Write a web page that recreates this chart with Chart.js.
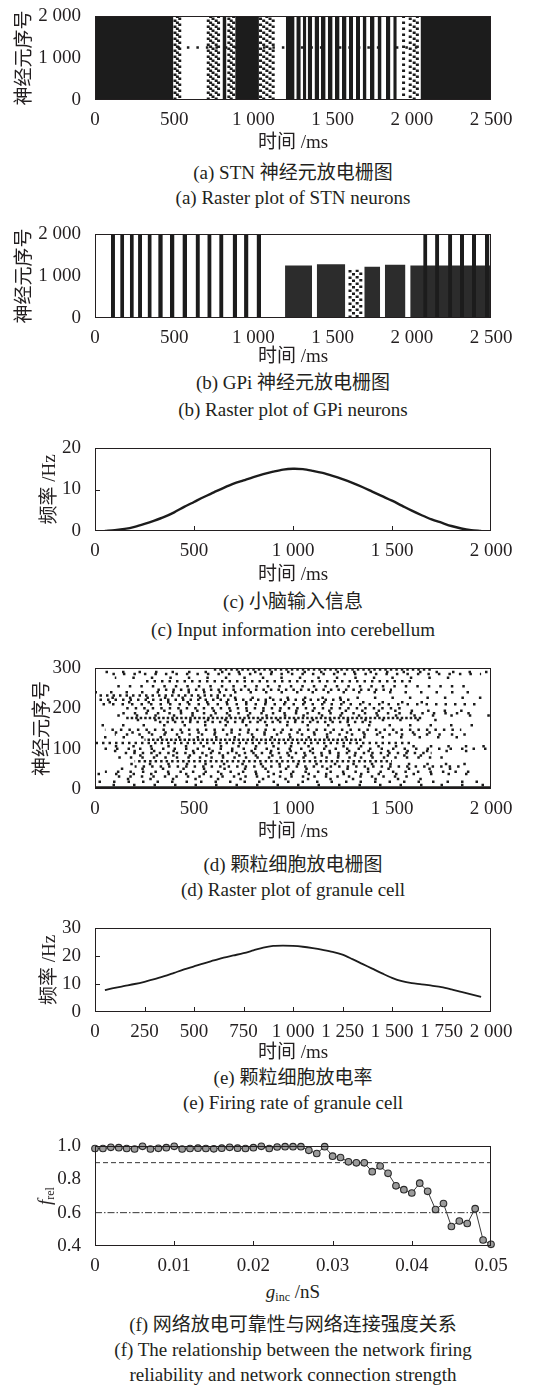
<!DOCTYPE html>
<html>
<head>
<meta charset="utf-8">
<script src="https://cdn.jsdelivr.net/npm/chart.js@4.4.1/dist/chart.umd.min.js"></script>
<style>
  body { margin: 0; background: #fff; width: 550px; height: 1387px; position: relative; overflow: hidden; }
  canvas { position: absolute; left: 0; }
  .txt { position: absolute; width: 550px; text-align: center; white-space: nowrap;
         font: 19px "Liberation Serif", "Noto Sans CJK SC", serif; line-height: 22px; color: #231f20; }
  .rot { position: absolute; white-space: nowrap; transform: translate(-50%, -50%) rotate(-90deg);
         font: 19px "Liberation Serif", serif; color: #231f20; }
  sub { font-size: 12px; vertical-align: -3px; line-height: 0; }
</style>
</head>
<body>
<script>
// ---------- data ----------
// (a) STN raster: dense firing blocks [start, end] ms, stripes, sparse columns
const stnSolid = [[0, 495], [805, 830], [885, 1035], [2055, 2500]];
const stnStripes = [[1205, 1260], [1271, 1299], [1312, 1334], [1343, 1371], [1386, 1415], [1426, 1456],
    [1470, 1500], [1515, 1544], [1559, 1588], [1603, 1629], [1647, 1673], [1690, 1714], [1736, 1765],
    [1784, 1809], [1837, 1865], [1883, 1905]];
const stnSpeckle = [505, 520, 535, 715, 730, 745, 765, 780, 845, 860, 875, 1045, 1065, 1085, 1105, 1125, 1948, 1990, 2015, 2035];
const stnRow = [1250, 520, 2500];

// (b) GPi raster
const gpiStripes = [[101, 126], [159, 184], [220, 245], [272, 297], [332, 358], [399, 428], [473, 502],
    [552, 581], [635, 662], [709, 736], [784, 811], [869, 897], [941, 969], [1020, 1048],
    [2072, 2098], [2147, 2173], [2229, 2255], [2304, 2330], [2380, 2406], [2462, 2490]];
const gpiLow = [[1200, 1370], [1400, 1580], [1700, 1800], [1830, 1960], [1990, 2500]];
const gpiLowTop = [1250, 1280, 1220, 1270, 1250];
const gpiSpeckle = [1610, 1632, 1655, 1678];

// (c) cerebellum input
const inputT = [50, 100, 150, 200, 250, 300, 350, 400, 450, 500, 550, 600, 650, 700, 750, 800, 850, 900, 950, 1000,
    1050, 1100, 1150, 1200, 1250, 1300, 1350, 1400, 1450, 1500, 1550, 1600, 1650, 1700, 1750, 1800, 1850, 1900, 1950];
const inputHz = [0, 0.2, 0.5, 1.0, 1.7, 2.5, 3.4, 4.5, 5.8, 7.0, 8.2, 9.3, 10.4, 11.4, 12.2, 13.0, 13.7, 14.3, 14.8, 15.0,
    14.9, 14.5, 14.0, 13.3, 12.5, 11.6, 10.6, 9.5, 8.4, 7.3, 6.1, 4.9, 3.8, 2.8, 2.0, 1.2, 0.6, 0.2, 0];

// (d) granule raster: neuron row, first and last spike time
const granRow  = [296, 285, 267, 255, 246, 232, 221, 210, 200, 188, 176, 166, 147, 135, 122, 114, 100, 89, 78, 69, 56, 43, 31, 18,
    290, 276, 240, 226, 215, 194, 182, 171, 158, 140, 128, 106, 94, 83, 62, 50, 37, 25, 10];
const granFrom = [600, 50, 250, 100, 300, 0, 0, 0, 150, 100, 150, 300, 50, 100, 250, 0, 0, 150, 100, 200, 200, 50, 100, 0,
    0, 100, 0, 50, 0, 200, 100, 150, 0, 100, 0, 100, 50, 200, 100, 100, 0, 100, 0];
const granTo   = [1700, 1950, 1600, 1900, 1500, 700, 1300, 1950, 1550, 1900, 1650, 1400, 1850, 1900, 1350, 1600, 2000, 1700, 1800, 1500, 1850, 1900, 1600, 2000,
    2000, 1800, 1900, 2000, 1700, 1900, 2000, 1800, 1950, 1700, 1850, 2000, 1900, 1700, 1950, 1800, 1900, 1700, 2000];
const granGap  = [3, 8, 5, 9, 5, 4, 5, 7, 6, 9, 2, 5, 6, 10, 2, 4, 9, 6, 9, 3, 6, 10, 9, 12,
    14, 16, 13, 15, 17, 14, 16, 15, 18, 14, 16, 15, 17, 14, 16, 18, 15, 20, 18];

// (e) granule firing rate
const rateT = [50, 100, 150, 200, 250, 300, 350, 400, 450, 500, 550, 600, 650, 700, 750, 800, 850, 900, 950, 1000,
    1050, 1100, 1150, 1200, 1250, 1300, 1350, 1400, 1450, 1500, 1550, 1600, 1650, 1700, 1750, 1800, 1850, 1900, 1950];
const rateHz = [7.8, 8.6, 9.3, 10.0, 10.8, 11.7, 12.8, 14.0, 15.2, 16.3, 17.4, 18.4, 19.4, 20.2, 21.0, 22.0, 23.0, 23.6, 23.7, 23.6,
    23.3, 22.8, 22.2, 21.5, 20.5, 18.9, 17.2, 15.5, 13.8, 12.2, 11.0, 10.3, 9.9, 9.4, 8.9, 8.1, 7.2, 6.3, 5.4];

// (f) reliability vs connection strength
const gInc = [0, 0.001, 0.002, 0.003, 0.004, 0.005, 0.006, 0.007, 0.008, 0.009, 0.010, 0.011, 0.012, 0.013, 0.014,
    0.015, 0.016, 0.017, 0.018, 0.019, 0.020, 0.021, 0.022, 0.023, 0.024, 0.025, 0.026, 0.027, 0.028, 0.029, 0.030,
    0.031, 0.032, 0.033, 0.034, 0.035, 0.036, 0.037, 0.038, 0.039, 0.040, 0.041, 0.042, 0.043, 0.044, 0.045, 0.046,
    0.047, 0.048, 0.049, 0.050];
const fRel = [0.985, 0.985, 0.992, 0.990, 0.985, 0.982, 0.998, 0.982, 0.986, 0.990, 0.998, 0.982, 0.985, 0.987, 0.985,
    0.983, 0.987, 0.992, 0.987, 0.985, 0.990, 0.998, 0.985, 0.994, 0.996, 0.996, 0.996, 0.974, 0.955, 0.996, 0.939,
    0.931, 0.905, 0.899, 0.899, 0.846, 0.880, 0.836, 0.761, 0.738, 0.718, 0.777, 0.728, 0.619, 0.655, 0.517, 0.550,
    0.535, 0.624, 0.436, 0.410];
const fRelRefs = [0.9, 0.6];

// tick values
const rasterTicksX = [0, 500, 1000, 1500, 2000, 2500];
const rasterTicksY = [0, 1000, 2000];
const inputTicksX = [0, 500, 1000, 1500, 2000];
const inputTicksY = [0, 10, 20];
const granTicksY = [0, 100, 200, 300];
const rateTicksX = [0, 250, 500, 750, 1000, 1250, 1500, 1750, 2000];
const rateTicksY = [0, 10, 20, 30];
const relTicksX = [0, 0.01, 0.02, 0.03, 0.04, 0.05];
const relTicksY = [0.4, 0.6, 0.8, 1.0];

// ---------- drawing ----------
const INK = '#231f20';
const FONT = '"Liberation Serif", "Noto Sans CJK SC", serif';
Chart.defaults.font.family = FONT;
Chart.defaults.font.size = 19;
Chart.defaults.color = INK;

const PLOT_LEFT = 95, PLOT_RIGHT = 491, PAD_TOP = 14;

function thousands(v) {
    return Math.abs(v) >= 1000 ? String(v).replace(/\B(?=(\d{3})+(?!\d))/g, ' ') : String(v);
}

// box round the plot plus short inward tick marks
const framePlugin = {
    id: 'frame',
    afterDatasetsDraw(chart, args, opts) {
        const { ctx, chartArea: a, scales: { x, y } } = chart;
        ctx.save();
        ctx.strokeStyle = INK;
        ctx.lineWidth = 1;
        ctx.strokeRect(a.left + 0.5, a.top + 0.5, a.right - a.left - 1, a.bottom - a.top - 1);
        ctx.beginPath();
        (opts.xInner || []).forEach(v => {
            const px = Math.round(x.getPixelForValue(v)) + 0.5;
            ctx.moveTo(px, a.bottom); ctx.lineTo(px, a.bottom - 5);
        });
        (opts.yInner || []).forEach(v => {
            const py = Math.round(y.getPixelForValue(v)) + 0.5;
            ctx.moveTo(a.left, py); ctx.lineTo(a.left + 5, py);
        });
        ctx.stroke();
        ctx.restore();
    }
};

function block(s, e, top, color) {
    return { data: [{ x: s, y: top }, { x: e, y: top }], fill: 'origin', backgroundColor: color || '#1c1c1c',
        borderColor: 'rgba(0,0,0,0)', borderWidth: 0, pointRadius: 0 };
}
function column(t, lo, hi, w, dash, off) {
    return { data: [{ x: t, y: lo }, { x: t, y: hi }], borderColor: '#1c1c1c', borderWidth: w,
        borderDash: dash, borderDashOffset: off || 0, borderCapStyle: 'butt', pointRadius: 0, fill: false };
}
function row(v, s, e, w, dash, off) {
    return { data: [{ x: s, y: v }, { x: e, y: v }], borderColor: '#1c1c1c', borderWidth: w,
        borderDash: dash, borderDashOffset: off || 0, borderCapStyle: 'butt', pointRadius: 0, fill: false };
}

function makeChart(cfg) {
    const top = cfg.plotTop - PAD_TOP;
    const bottom = cfg.bottom;
    const canvas = document.createElement('canvas');
    canvas.width = 550;
    canvas.height = bottom - top;
    canvas.style.top = top + 'px';
    document.body.appendChild(canvas);
    const xH = bottom - cfg.plotBottom;

    new Chart(canvas, {
        type: 'line',
        data: { datasets: cfg.datasets },
        options: {
            responsive: false,
            animation: false,
            events: [],
            layout: { padding: { top: PAD_TOP, right: 550 - PLOT_RIGHT, left: 0, bottom: 0 } },
            plugins: {
                legend: { display: false },
                tooltip: { enabled: false },
                frame: { xInner: cfg.xInner, yInner: cfg.yInner }
            },
            scales: {
                x: {
                    type: 'linear', min: cfg.xMin, max: cfg.xMax,
                    afterBuildTicks: s => { s.ticks = cfg.xTicks.map(v => ({ value: v })); },
                    afterFit: s => { s.height = xH; s.paddingLeft = 0; s.paddingRight = 0; },
                    ticks: { callback: cfg.xFmt || thousands, padding: 1, maxRotation: 0, autoSkip: false, color: INK },
                    grid: { display: false },
                    border: { display: false },
                    title: cfg.xTitle ? { display: true, text: cfg.xTitle, color: INK,
                        font: { size: 19 }, padding: { top: 0, bottom: 2.6 } } : { display: false }
                },
                y: {
                    type: 'linear', min: cfg.yMin, max: cfg.yMax,
                    afterBuildTicks: s => { s.ticks = cfg.yTicks.map(v => ({ value: v })); },
                    afterFit: s => { s.width = PLOT_LEFT; s.paddingTop = 0; s.paddingBottom = 0; },
                    ticks: { callback: cfg.yFmt || thousands, padding: 6, autoSkip: false, color: INK },
                    grid: { display: false },
                    border: { display: false },
                    title: cfg.yTitle ? { display: true, text: cfg.yTitle, color: INK,
                        font: { size: 19 }, padding: { top: cfg.yTitleX - 11.4, bottom: 0 } } : { display: false }
                }
            }
        },
        plugins: [framePlugin]
    });
}

function text(html, cx, cy, cls) {
    const d = document.createElement('div');
    d.className = cls || 'txt';
    d.innerHTML = html;
    if (cls === 'rot') {
        d.style.left = cx + 'px';
        d.style.top = cy + 'px';
    } else {
        d.style.left = (cx - 275) + 'px';
        d.style.top = (cy - 11) + 'px';
    }
    document.body.appendChild(d);
}

// (a) STN raster
const stnSets = [];
stnSolid.forEach(b => stnSets.push(block(b[0], b[1], 2000)));
stnStripes.forEach(b => stnSets.push(block(b[0], b[1], 2000)));
stnSpeckle.forEach((t, i) => stnSets.push(column(t, 0, 2000, 3, [2.5, 3.5], i * 2)));
stnSets.push(row(stnRow[0], stnRow[1], stnRow[2], 2.5, [2.5, 7]));
makeChart({
    plotTop: 16, plotBottom: 100, bottom: 157,
    xMin: 0, xMax: 2500, yMin: 0, yMax: 2000,
    xTicks: rasterTicksX, yTicks: rasterTicksY,
    xTitle: '时间 /ms', yTitle: '神经元序号', yTitleX: 25,
    datasets: stnSets
});

// (b) GPi raster
const gpiSets = [];
gpiStripes.forEach(b => gpiSets.push(block(b[0], b[1], 2000)));
gpiLow.forEach((b, i) => gpiSets.push(block(b[0], b[1], gpiLowTop[i], '#2c2c2c')));
gpiSpeckle.forEach((t, i) => gpiSets.push(column(t, 0, 1150, 3, [2.5, 4], i * 3)));
makeChart({
    plotTop: 234, plotBottom: 318, bottom: 371,
    xMin: 0, xMax: 2500, yMin: 0, yMax: 2000,
    xTicks: rasterTicksX, yTicks: rasterTicksY,
    xTitle: '时间 /ms', yTitle: '神经元序号', yTitleX: 25,
    datasets: gpiSets
});

// (c) input to cerebellum
makeChart({
    plotTop: 448, plotBottom: 531, bottom: 589,
    xMin: 0, xMax: 2000, yMin: 0, yMax: 20,
    xTicks: inputTicksX, yTicks: inputTicksY,
    xInner: [500, 1000, 1500], yInner: [10],
    xTitle: '时间 /ms', yTitle: '频率 /Hz', yTitleX: 50,
    datasets: [{ data: inputT.map((t, i) => ({ x: t, y: inputHz[i] })), borderColor: '#1c1c1c',
        borderWidth: 2.4, pointRadius: 0, tension: 0.3, fill: false }]
});

// (d) granule raster
const granSets = [];
granRow.forEach((n, i) => granSets.push(row(n, granFrom[i], granTo[i], 2.5, [2.5, granGap[i]], i * 3)));
granSets.push(row(2, 0, 2000, 4, []));
makeChart({
    plotTop: 668, plotBottom: 789, bottom: 846,
    xMin: 0, xMax: 2000, yMin: 0, yMax: 300,
    xTicks: inputTicksX, yTicks: granTicksY,
    xTitle: '时间 /ms', yTitle: '神经元序号', yTitleX: 43,
    datasets: granSets
});

// (e) granule firing rate
makeChart({
    plotTop: 928, plotBottom: 1012, bottom: 1067,
    xMin: 0, xMax: 2000, yMin: 0, yMax: 30,
    xTicks: rateTicksX, yTicks: rateTicksY,
    xInner: [250, 500, 750, 1000, 1250, 1500, 1750], yInner: [10, 20],
    xTitle: '时间 /ms', yTitle: '频率 /Hz', yTitleX: 50,
    datasets: [{ data: rateT.map((t, i) => ({ x: t, y: rateHz[i] })), borderColor: '#1c1c1c',
        borderWidth: 1.8, pointRadius: 0, tension: 0.3, fill: false }]
});

// (f) reliability
const relSets = [{
    data: gInc.map((g, i) => ({ x: g, y: fRel[i] })), borderColor: '#3a3a3a', borderWidth: 1,
    pointRadius: 3.3, pointBackgroundColor: '#9b9b9b', pointBorderColor: '#2a2a2a', pointBorderWidth: 1.1,
    fill: false, clip: false
}];
fRelRefs.forEach((v, i) => relSets.push({
    data: [{ x: 0, y: v }, { x: 0.05, y: v }], borderColor: '#333', borderWidth: 1,
    borderDash: i === 0 ? [5, 3] : [7, 2, 1.5, 2], pointRadius: 0, fill: false
}));
makeChart({
    plotTop: 1146, plotBottom: 1246, bottom: 1280,
    xMin: 0, xMax: 0.05, yMin: 0.4, yMax: 1.0,
    xTicks: relTicksX, yTicks: relTicksY,
    xFmt: v => v === 0 ? '0' : v.toFixed(2), yFmt: v => v.toFixed(1),
    xInner: [0.01, 0.02, 0.03, 0.04],
    datasets: relSets
});
text('<i>f</i><sub>rel</sub>', 45, 1196, 'rot');
text('<i>g</i><sub>inc</sub> /nS', 293, 1292);

// captions
text('(a) STN 神经元放电栅图', 293, 173);
text('(a) Raster plot of STN neurons', 293, 198);
text('(b) GPi 神经元放电栅图', 293, 383);
text('(b) Raster plot of GPi neurons', 293, 410);
text('(c) 小脑输入信息', 293, 602);
text('(c) Input information into cerebellum', 293, 630);
text('(d) 颗粒细胞放电栅图', 293, 865);
text('(d) Raster plot of granule cell', 293, 890);
text('(e) 颗粒细胞放电率', 293, 1078);
text('(e) Firing rate of granule cell', 293, 1103);
text('(f) 网络放电可靠性与网络连接强度关系', 293, 1325);
text('(f) The relationship between the network firing', 293, 1350);
text('reliability and network connection strength', 293, 1375);
</script>
</body>
</html>
